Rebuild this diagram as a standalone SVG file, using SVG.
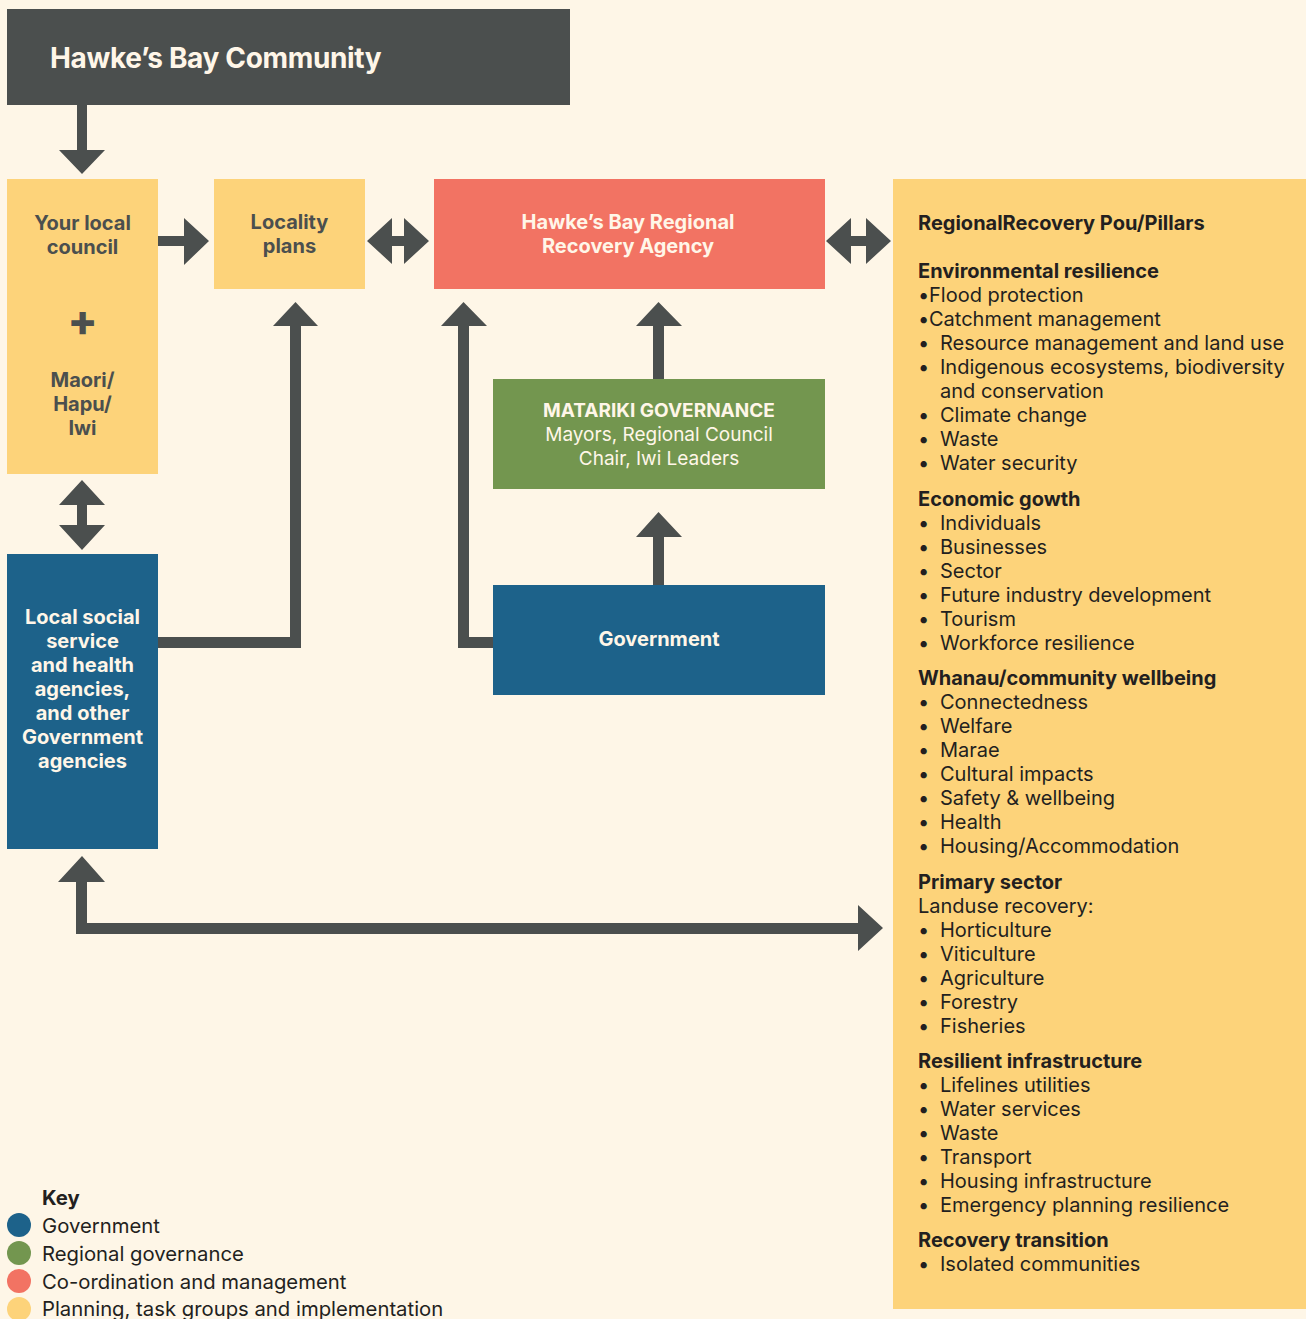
<svg xmlns="http://www.w3.org/2000/svg" width="1306" height="1319" viewBox="0 0 1306 1319">
<style>
.t{font-family:Inter,"Liberation Sans",Arial,sans-serif}
.b{font-weight:700}
.w{fill:#FFF6E8}
.d{fill:#4B4F4E}
.k{fill:#231F20}
.c{text-anchor:middle}
.p{font-size:20px}
.arr{fill:#4B4F4E}
</style>
<rect x="0" y="0" width="1306" height="1319" fill="#FEF6E7"/>
<g id="community">
<rect x="7" y="9" width="563" height="96" fill="#4B4F4E"/>
<text class="t b w" x="50" y="68" font-size="28" letter-spacing="-0.35">Hawke’s Bay Community</text>
</g>
<g id="council">
<rect x="7" y="179" width="151" height="295" fill="#FDD37A"/>
<text class="t b d c" x="82.5" y="230" font-size="20">Your local</text>
<text class="t b d c" x="82.5" y="254" font-size="20">council</text>
<text class="t d c" x="82.5" y="336" font-size="44" font-weight="800">+</text>
<text class="t b d c" x="82.5" y="387" font-size="20">Maori/</text>
<text class="t b d c" x="82.5" y="411" font-size="20">Hapu/</text>
<text class="t b d c" x="82.5" y="435" font-size="20">Iwi</text>
</g>
<g id="locality">
<rect x="214" y="179" width="151" height="110" fill="#FDD37A"/>
<text class="t b d c" x="289.5" y="229" font-size="20">Locality</text>
<text class="t b d c" x="289.5" y="253" font-size="20">plans</text>
</g>
<g id="hbrra">
<rect x="434" y="179" width="391" height="110" fill="#F27363"/>
<text class="t b w c" x="628" y="229" font-size="20">Hawke’s Bay Regional</text>
<text class="t b w c" x="628" y="253" font-size="20">Recovery Agency</text>
</g>
<g id="matariki">
<rect x="493" y="379" width="332" height="110" fill="#73964F"/>
<text class="t b w c" x="659" y="417" font-size="19">MATARIKI GOVERNANCE</text>
<text class="t w c" x="659" y="441" font-size="19">Mayors, Regional Council</text>
<text class="t w c" x="659" y="465" font-size="19">Chair, Iwi Leaders</text>
</g>
<g id="government">
<rect x="493" y="585" width="332" height="110" fill="#1D628A"/>
<text class="t b w c" x="659" y="646" font-size="20">Government</text>
</g>
<g id="local-agencies">
<rect x="7" y="554" width="151" height="295" fill="#1D628A"/>
<text class="t b w c" x="82.5" y="624" font-size="20">Local social</text>
<text class="t b w c" x="82.5" y="648" font-size="20">service</text>
<text class="t b w c" x="82.5" y="672" font-size="20">and health</text>
<text class="t b w c" x="82.5" y="696" font-size="20">agencies,</text>
<text class="t b w c" x="82.5" y="720" font-size="20">and other</text>
<text class="t b w c" x="82.5" y="744" font-size="20">Government</text>
<text class="t b w c" x="82.5" y="768" font-size="20">agencies</text>
</g>
<g id="pillars">
<rect x="893" y="179" width="413" height="1130" fill="#FDD37A"/>
<g class="t k p">
<text class="b" x="918" y="230">RegionalRecovery Pou/Pillars</text>
<text class="b" x="918" y="278">Environmental resilience</text>
<text x="918" y="302">•</text><text x="929" y="302">Flood protection</text>
<text x="918" y="326">•</text><text x="929" y="326">Catchment management</text>
<text x="918" y="350">•</text><text x="940" y="350">Resource management and land use</text>
<text x="918" y="374">•</text><text x="940" y="374">Indigenous ecosystems, biodiversity</text>
<text x="940" y="398">and conservation</text>
<text x="918" y="422">•</text><text x="940" y="422">Climate change</text>
<text x="918" y="446">•</text><text x="940" y="446">Waste</text>
<text x="918" y="470">•</text><text x="940" y="470">Water security</text>
<text class="b" x="918" y="506">Economic gowth</text>
<text x="918" y="530">•</text><text x="940" y="530">Individuals</text>
<text x="918" y="554">•</text><text x="940" y="554">Businesses</text>
<text x="918" y="578">•</text><text x="940" y="578">Sector</text>
<text x="918" y="602">•</text><text x="940" y="602">Future industry development</text>
<text x="918" y="626">•</text><text x="940" y="626">Tourism</text>
<text x="918" y="650">•</text><text x="940" y="650">Workforce resilience</text>
<text class="b" x="918" y="685">Whanau/community wellbeing</text>
<text x="918" y="709">•</text><text x="940" y="709">Connectedness</text>
<text x="918" y="733">•</text><text x="940" y="733">Welfare</text>
<text x="918" y="757">•</text><text x="940" y="757">Marae</text>
<text x="918" y="781">•</text><text x="940" y="781">Cultural impacts</text>
<text x="918" y="805">•</text><text x="940" y="805">Safety &amp; wellbeing</text>
<text x="918" y="829">•</text><text x="940" y="829">Health</text>
<text x="918" y="853">•</text><text x="940" y="853">Housing/Accommodation</text>
<text class="b" x="918" y="889">Primary sector</text>
<text x="918" y="913">Landuse recovery:</text>
<text x="918" y="937">•</text><text x="940" y="937">Horticulture</text>
<text x="918" y="961">•</text><text x="940" y="961">Viticulture</text>
<text x="918" y="985">•</text><text x="940" y="985">Agriculture</text>
<text x="918" y="1009">•</text><text x="940" y="1009">Forestry</text>
<text x="918" y="1033">•</text><text x="940" y="1033">Fisheries</text>
<text class="b" x="918" y="1068">Resilient infrastructure</text>
<text x="918" y="1092">•</text><text x="940" y="1092">Lifelines utilities</text>
<text x="918" y="1116">•</text><text x="940" y="1116">Water services</text>
<text x="918" y="1140">•</text><text x="940" y="1140">Waste</text>
<text x="918" y="1164">•</text><text x="940" y="1164">Transport</text>
<text x="918" y="1188">•</text><text x="940" y="1188">Housing infrastructure</text>
<text x="918" y="1212">•</text><text x="940" y="1212">Emergency planning resilience</text>
<text class="b" x="918" y="1247">Recovery transition</text>
<text x="918" y="1271">•</text><text x="940" y="1271">Isolated communities</text>
</g>
</g>
<g id="connectors" class="arr">
<polygon points="77,105 87,105 87,150 105,150 82,174 59,150 77,150"/>
<polygon points="158,236 184,236 184,218 209,241 184,265 184,246 158,246"/>
<polygon points="367,241 392,218 392,236 404,236 404,218 429,241 404,264 404,246 392,246 392,264"/>
<polygon points="826,241 851,218 851,236 866,236 866,218 891,241 866,264 866,246 851,246 851,264"/>
<polygon points="82,480 105,505 87,505 87,525 105,525 82,550 59,525 77,525 77,505 59,505"/>
<polygon points="158,637 290,637 290,326 273,326 295.5,302 318,326 301,326 301,648 158,648"/>
<polygon points="493,637 469,637 469,326 487,326 463.5,302 441,326 458,326 458,648 493,648"/>
<polygon points="653,379 653,326 636,326 658.5,302 682,326 664,326 664,379"/>
<polygon points="653,585 653,537 636,537 658.5,512 682,537 664,537 664,585"/>
<polygon points="76,882 58,882 82,856 105,882 87,882 87,923 858,923 858,905 883,928 858,951 858,934 76,934"/>
</g>
<g id="key" class="t k" font-size="20.3">
<text class="b" x="42" y="1205">Key</text>
<circle cx="19" cy="1225" r="12" fill="#1D628A"/>
<text x="42" y="1233">Government</text>
<circle cx="19" cy="1253" r="12" fill="#73964F"/>
<text x="42" y="1261">Regional governance</text>
<circle cx="19" cy="1281" r="12" fill="#F27363"/>
<text x="42" y="1289">Co-ordination and management</text>
<circle cx="19" cy="1309" r="12" fill="#FDD37A"/>
<text x="42" y="1316">Planning, task groups and implementation</text>
</g>
</svg>
